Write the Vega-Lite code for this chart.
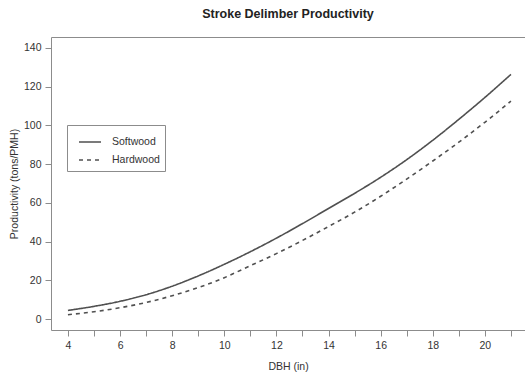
{
  "$schema": "https://vega.github.io/schema/vega-lite/v6.json",
  "autosize": "none",
  "width": 474,
  "height": 293,
  "padding": {"left": 51, "top": 37, "right": 0, "bottom": 48},
  "background": "white",
  "title": {
    "text": "Stroke Delimber Productivity",
    "font": "Liberation Sans",
    "fontSize": 12.5,
    "fontWeight": "bold",
    "color": "#222222",
    "anchor": "middle",
    "offset": 17
  },
  "config": {
    "view": {"stroke": null},
    "axis": {
      "domain": true,
      "domainColor": "#8c8c8c",
      "domainWidth": 1,
      "grid": false,
      "labelFont": "Liberation Sans",
      "labelFontSize": 10.5,
      "labelColor": "#333333",
      "titleFont": "Liberation Sans",
      "titleFontSize": 10.5,
      "titleFontWeight": "normal",
      "titleColor": "#333333",
      "tickColor": "#8c8c8c",
      "tickSize": 6,
      "labelPadding": 4
    },
    "legend": {
      "labelFont": "Liberation Sans",
      "labelFontSize": 10.5,
      "labelColor": "#333333"
    }
  },
  "data": {
    "values": [
      {"dbh": 4, "species": "Softwood", "productivity": 4.5},
      {"dbh": 5, "species": "Softwood", "productivity": 6.6},
      {"dbh": 6, "species": "Softwood", "productivity": 9.2},
      {"dbh": 7, "species": "Softwood", "productivity": 12.6},
      {"dbh": 8, "species": "Softwood", "productivity": 17.0},
      {"dbh": 9, "species": "Softwood", "productivity": 22.3},
      {"dbh": 10, "species": "Softwood", "productivity": 28.3},
      {"dbh": 11, "species": "Softwood", "productivity": 34.8},
      {"dbh": 12, "species": "Softwood", "productivity": 41.8},
      {"dbh": 13, "species": "Softwood", "productivity": 49.3},
      {"dbh": 14, "species": "Softwood", "productivity": 57.1},
      {"dbh": 15, "species": "Softwood", "productivity": 64.9},
      {"dbh": 16, "species": "Softwood", "productivity": 73.2},
      {"dbh": 17, "species": "Softwood", "productivity": 82.3},
      {"dbh": 18, "species": "Softwood", "productivity": 92.3},
      {"dbh": 19, "species": "Softwood", "productivity": 103.1},
      {"dbh": 20, "species": "Softwood", "productivity": 114.4},
      {"dbh": 21, "species": "Softwood", "productivity": 126.3},
      {"dbh": 4, "species": "Hardwood", "productivity": 2.3},
      {"dbh": 5, "species": "Hardwood", "productivity": 3.8},
      {"dbh": 6, "species": "Hardwood", "productivity": 5.9},
      {"dbh": 7, "species": "Hardwood", "productivity": 8.6},
      {"dbh": 8, "species": "Hardwood", "productivity": 12.1},
      {"dbh": 9, "species": "Hardwood", "productivity": 16.3},
      {"dbh": 10, "species": "Hardwood", "productivity": 21.4},
      {"dbh": 11, "species": "Hardwood", "productivity": 27.6},
      {"dbh": 12, "species": "Hardwood", "productivity": 33.8},
      {"dbh": 13, "species": "Hardwood", "productivity": 40.6},
      {"dbh": 14, "species": "Hardwood", "productivity": 47.8},
      {"dbh": 15, "species": "Hardwood", "productivity": 55.2},
      {"dbh": 16, "species": "Hardwood", "productivity": 63.4},
      {"dbh": 17, "species": "Hardwood", "productivity": 72.3},
      {"dbh": 18, "species": "Hardwood", "productivity": 81.6},
      {"dbh": 19, "species": "Hardwood", "productivity": 91.3},
      {"dbh": 20, "species": "Hardwood", "productivity": 101.6},
      {"dbh": 21, "species": "Hardwood", "productivity": 112.5}
    ]
  },
  "layer": [
    {
      "mark": {
        "type": "line",
        "interpolate": "monotone",
        "color": "#505050",
        "strokeWidth": 1.6
      },
      "encoding": {
        "x": {
          "field": "dbh",
          "type": "quantitative",
          "title": "DBH (in)",
          "scale": {"domain": [3.35, 21.54], "nice": false, "zero": false},
          "axis": {
            "values": [4, 5, 6, 7, 8, 9, 10, 11, 12, 13, 14, 15, 16, 17, 18, 19, 20, 21],
            "labelExpr": "datum.value % 2 == 0 ? datum.label : ''",
            "titlePadding": 11
          }
        },
        "y": {
          "field": "productivity",
          "type": "quantitative",
          "title": "Productivity (tons/PMH)",
          "scale": {"domain": [-5.6, 145.6], "nice": false, "zero": false},
          "axis": {
            "values": [0, 10, 20, 30, 40, 50, 60, 70, 80, 90, 100, 110, 120, 130, 140],
            "labelExpr": "datum.value % 20 == 0 ? datum.label : ''",
            "titlePadding": 4
          }
        },
        "strokeDash": {
          "field": "species",
          "type": "nominal",
          "scale": {"domain": ["Softwood", "Hardwood"], "range": [[1, 0], [4, 4]]},
          "legend": {
            "title": null,
            "orient": "none",
            "legendX": 16,
            "legendY": 88,
            "padding": 5,
            "symbolOffset": 6,
            "strokeColor": "#8c8c8c",
            "fillColor": "white",
            "symbolType": "stroke",
            "symbolSize": 484,
            "symbolStrokeColor": "#505050",
            "symbolStrokeWidth": 1.6,
            "labelOffset": 10,
            "rowPadding": -7,
            "labelExpr": "datum.label + '\u00a0\u00a0\u00a0\u00a0\u00a0\u00a0\u00a0\u00a0\u00a0\u00a0\u00a0\u00a0\u00a0'"
          }
        },
        "order": {"field": "dbh"}
      }
    },
    {
      "mark": {"type": "line", "opacity": 0},
      "encoding": {
        "x": {
          "field": "dbh",
          "type": "quantitative",
          "axis": {"orient": "top", "title": null, "labels": false, "ticks": false}
        },
        "y": {"field": "productivity", "type": "quantitative"},
        "detail": {"field": "species"}
      }
    }
  ],
  "resolve": {"axis": {"x": "independent"}}
}
